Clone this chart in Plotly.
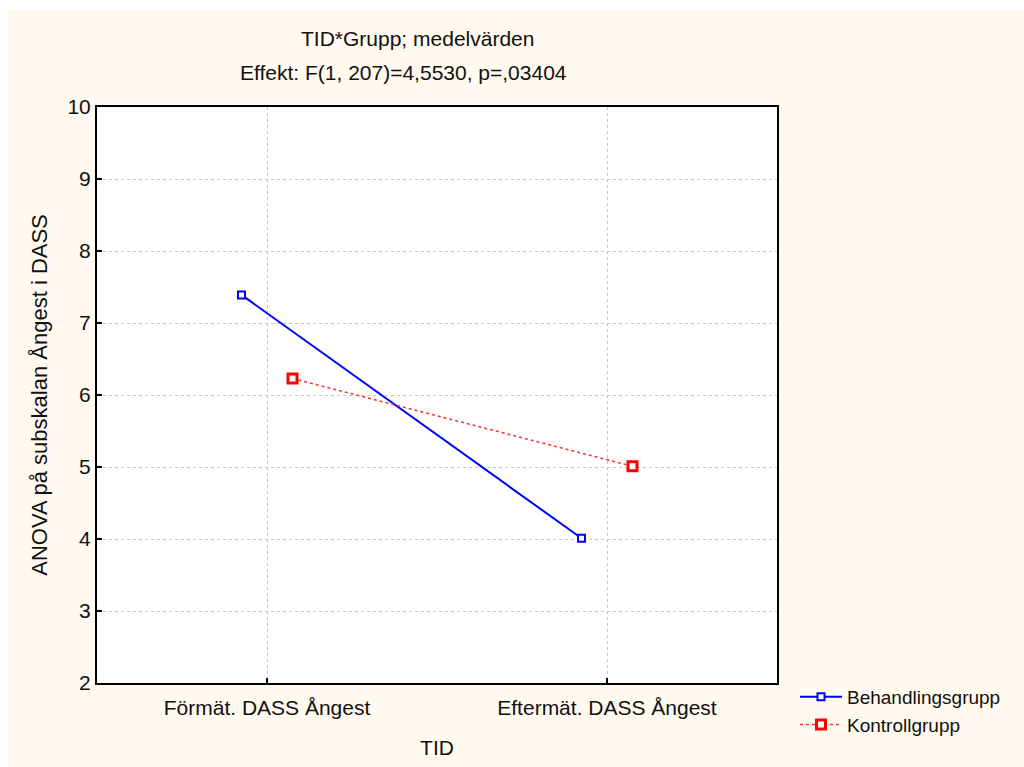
import plotly.graph_objects as go

# Data
time_labels = ["Förmät. DASS Ångest", "Eftermät. DASS Ångest"]
behandling = [7.39, 4.01]
kontroll = [6.23, 5.01]
y_ticks = [2, 3, 4, 5, 6, 7, 8, 9, 10]

W, H = 1024, 767
L, R, T, B = 97, 247, 107, 84
pw = W - L - R
ph = H - T - B
FONT = "Liberation Sans, Arial, sans-serif"
CREAM = "#FFF9EF"

off = 0.075
xs = list(range(len(time_labels)))

fig = go.Figure()
fig.add_trace(go.Scatter(
    x=[i - off for i in xs], y=behandling, mode="lines+markers",
    name="Behandlingsgrupp",
    line=dict(color="#0000FF", width=2),
    marker=dict(symbol="square", size=7, color="white",
                line=dict(color="#0000FF", width=2)),
))
fig.add_trace(go.Scatter(
    x=[i + off for i in xs], y=kontroll, mode="lines+markers",
    name="Kontrollgrupp",
    line=dict(color="#FF3030", width=1.5, dash="dot"),
    marker=dict(symbol="square", size=9, color="white",
                line=dict(color="#FF0000", width=3)),
))

def px(x):
    return (x - L) / pw

def py(y):
    return (H - B - y) / ph

GRID = dict(showgrid=True, gridcolor="#C4C4C4", griddash="3px,3px", gridwidth=1,
            showline=True, linecolor="black", linewidth=2, mirror=True,
            ticks="inside", ticklen=5, tickwidth=1.5, tickcolor="black",
            zeroline=False)

fig.update_layout(
    width=W, height=H,
    margin=dict(l=L, r=R, t=T, b=B, pad=0),
    paper_bgcolor=CREAM, plot_bgcolor="white",
    font=dict(family=FONT, size=21, color="#111111"),
    showlegend=True,
    legend=dict(x=px(795), y=py(678), xanchor="left", yanchor="top",
                bgcolor="rgba(0,0,0,0)", font=dict(size=19),
                tracegroupgap=0, itemwidth=42),
    xaxis=dict(range=[-0.5, 1.5], tickvals=xs, ticktext=time_labels,
               ticklabelstandoff=5,
               title=dict(text="TID", standoff=22, font=dict(size=21)),
               **GRID),
    yaxis=dict(range=[2, 10], tickvals=y_ticks,
               title=dict(text="ANOVA på subskalan Ångest i DASS", standoff=14,
                          font=dict(size=22)),
               **GRID),
    shapes=[
        dict(type="rect", xref="paper", yref="paper", x0=px(0), x1=px(W),
             y0=py(0), y1=py(10), fillcolor="white", line=dict(width=0), layer="below"),
        dict(type="rect", xref="paper", yref="paper", x0=px(0), x1=px(8),
             y0=py(0), y1=py(H), fillcolor="white", line=dict(width=0), layer="below"),
    ],
    annotations=[
        dict(text="TID*Grupp; medelvärden", xref="paper", yref="paper",
             x=px(417), y=py(39), xanchor="center", yanchor="middle",
             showarrow=False, font=dict(size=21)),
        dict(text="Effekt: F(1, 207)=4,5530, p=,03404", xref="paper", yref="paper",
             x=px(403), y=py(72), xanchor="center", yanchor="middle",
             showarrow=False, font=dict(size=21)),
    ],
)

fig.write_html("out.html")
